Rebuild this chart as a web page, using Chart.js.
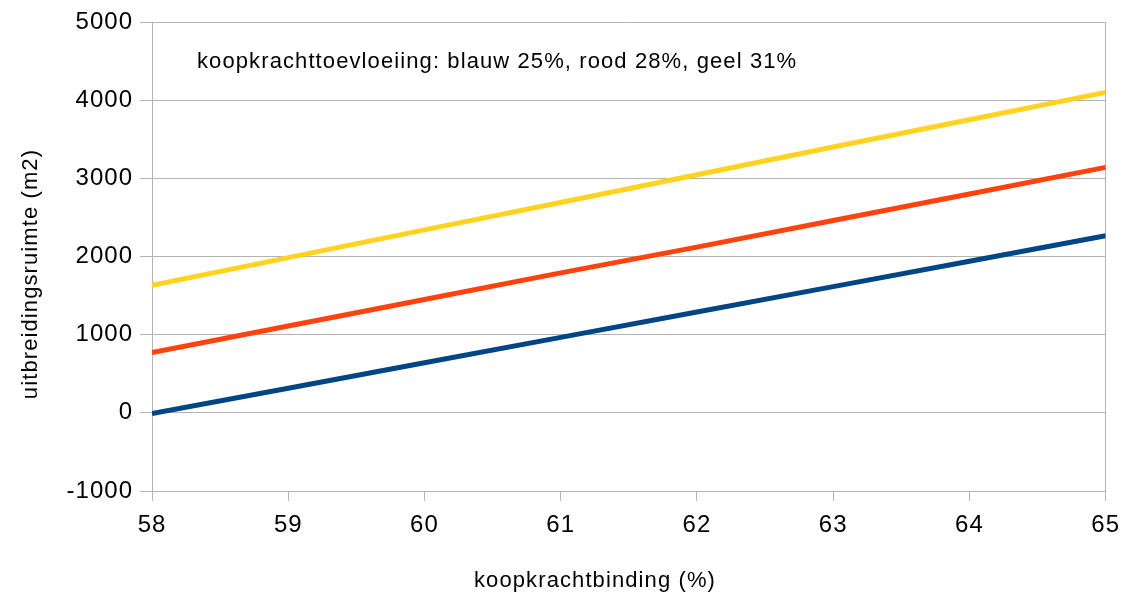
<!DOCTYPE html>
<html>
<head>
<meta charset="utf-8">
<script src="https://cdn.jsdelivr.net/npm/chart.js@4/dist/chart.umd.min.js"></script>
<style>
  html, body { margin: 0; padding: 0; background: #fff; }
  #wrap { width: 1129px; height: 597px; position: relative; }
</style>
</head>
<body>
<div id="wrap"><canvas id="uitbreidingChart"></canvas></div>
<script>
// koopkrachtbinding (%) op de x-as
const binding = [58, 59, 60, 61, 62, 63, 64, 65];
// uitbreidingsruimte (m2) per toevloeiingspercentage
const blauw25 = [-10, 315, 640, 965, 1290, 1615, 1940, 2265];
const rood28 = [770, 1110, 1450, 1790, 2120, 2460, 2800, 3140];
const geel31 = [1630, 1985, 2340, 2690, 3045, 3400, 3750, 4100];
const yTicks = [-1000, 0, 1000, 2000, 3000, 4000, 5000];

const toelichting = 'koopkrachttoevloeiing: blauw 25%, rood 28%, geel 31%';
const xTitel = 'koopkrachtbinding (%)';
const yTitel = 'uitbreidingsruimte (m2)';
const grijs = '#b3b3b3';
const font = 'Liberation Sans, Arial, sans-serif';

const toPoints = vals => vals.map((v, i) => ({ x: binding[i], y: v }));

// iets ruimere letterafstand voor de asgetallen
const spatiePlugin = {
    id: 'spatie',
    beforeDraw(chart) {
        chart.ctx.letterSpacing = '1px';
    }
};

// asopschriften en toelichting
const tekstPlugin = {
    id: 'teksten',
    afterDraw(chart) {
        const { ctx, chartArea } = chart;
        ctx.save();
        ctx.letterSpacing = '1.1px';
        ctx.fillStyle = '#000';
        ctx.textBaseline = 'alphabetic';
        ctx.font = '22px ' + font;

        ctx.textAlign = 'left';
        ctx.fillText(toelichting, chartArea.left + 45, 68);

        ctx.textAlign = 'center';
        ctx.fillText(xTitel, 595, 587);

        ctx.translate(37, 274);
        ctx.rotate(-Math.PI / 2);
        ctx.fillText(yTitel, 0, 0);
        ctx.restore();
    }
};

const ctx = document.getElementById('uitbreidingChart').getContext('2d');
new Chart(ctx, {
    type: 'line',
    data: {
        datasets: [
            { label: 'geel 31%', data: toPoints(geel31), borderColor: '#ffd320' },
            { label: 'rood 28%', data: toPoints(rood28), borderColor: '#ff420e' },
            { label: 'blauw 25%', data: toPoints(blauw25), borderColor: '#004586' }
        ]
    },
    options: {
        responsive: true,
        maintainAspectRatio: false,
        animation: false,
        layout: { padding: { top: 22, right: 23, left: 0, bottom: 0 } },
        elements: {
            line: { borderWidth: 5, tension: 0, borderCapStyle: 'butt' },
            point: { radius: 0 }
        },
        plugins: {
            legend: { display: false },
            tooltip: { enabled: false }
        },
        scales: {
            x: {
                type: 'linear',
                min: 58,
                max: 65,
                afterFit: s => { s.height = 106; },
                ticks: {
                    stepSize: 1,
                    color: '#000',
                    font: { family: font, size: 24 },
                    padding: 10
                },
                grid: {
                    color: c => c.index === binding.length - 1 ? grijs : 'transparent',
                    tickColor: grijs,
                    tickLength: 10,
                    lineWidth: 1
                },
                border: { color: grijs }
            },
            y: {
                min: -1000,
                max: 5000,
                afterFit: s => { s.width = 152; },
                afterBuildTicks: s => { s.ticks = yTicks.map(v => ({ value: v })); },
                ticks: {
                    color: '#000',
                    font: { family: font, size: 24 },
                    padding: 7,
                    callback: v => String(v)
                },
                grid: {
                    color: grijs,
                    tickColor: grijs,
                    tickLength: 12,
                    lineWidth: 1
                },
                border: { color: grijs }
            }
        }
    },
    plugins: [spatiePlugin, tekstPlugin]
});
</script>
</body>
</html>
